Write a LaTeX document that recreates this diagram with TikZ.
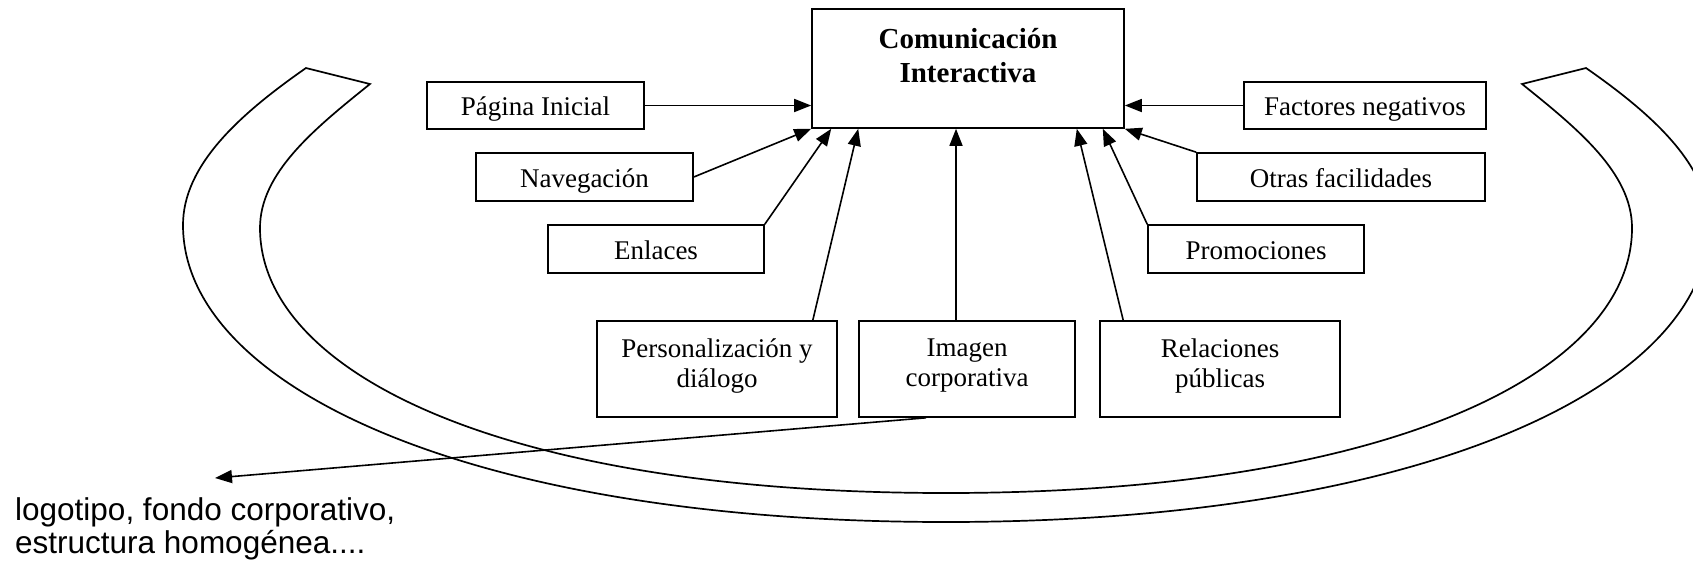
\documentclass[tikz,border=0pt]{standalone}
\usepackage{fontspec}
\setmainfont{Liberation Serif}
\newfontfamily\notefont{Liberation Sans}
\usetikzlibrary{arrows.meta}
% extra depth under the last line of a two-line box, lifts the text a little
\newcommand\lowstrut{\rule[-12pt]{0pt}{12pt}}

\begin{document}
\begin{tikzpicture}[x=1pt,y=-1pt,
  box/.style={draw, line width=1.6pt, inner sep=0pt,
              font=\fontsize{27}{30}\selectfont, align=center},
  onebox/.style={box, text height=24pt, text depth=4pt},
  twobox/.style={box, minimum height=96pt},
  feed/.style={line width=1.6pt, -{Triangle[length=17pt,width=13pt]}},
  band/.style={line width=1.7pt, line join=miter}
]
\useasboundingbox (0,0) rectangle (1693,566);
\clip (0,0) rectangle (1693,566);
\fill[white] (0,0) rectangle (1693,566);

% curved band around the diagram
\draw[band] (306,68) .. controls (240,114) and (183,165) .. (183,225)
  .. controls (183,385) and (466,522) .. (946,522)
  .. controls (1426,522) and (1709,385) .. (1709,225)
  .. controls (1709,165) and (1652,114) .. (1586,68)
  -- (1522,84)
  .. controls (1578,129) and (1632,173) .. (1632,228)
  .. controls (1632,370) and (1396,493) .. (946,493)
  .. controls (496,493) and (260,370) .. (260,228)
  .. controls (260,173) and (314,129) .. (370,84)
  -- cycle;

% central box
\node[box, minimum width=312pt, minimum height=119pt] (main) at (968,68.5) {};
\node[font=\bfseries\fontsize{29}{34}\selectfont, align=center, inner sep=0pt]
  (maintitle) at (968,56) {Comunicación\\Interactiva};

% factor boxes
\node[onebox, minimum width=217pt, minimum height=47pt] (pagina) at (535.5,105.5) {Página Inicial};
\node[onebox, minimum width=217pt, minimum height=48pt] (naveg) at (584.5,177) {Navegación};
\node[onebox, minimum width=216pt, minimum height=48pt] (enlaces) at (656,249) {Enlaces};
\node[twobox, minimum width=240pt] (person) at (717,369) {Personalización y\\diálogo\lowstrut};
\node[twobox, minimum width=216pt] (imagen) at (967,369) {Imagen\\corporativa\lowstrut};
\node[twobox, minimum width=240pt] (relac) at (1220,369) {Relaciones\\públicas\lowstrut};
\node[onebox, minimum width=216pt, minimum height=48pt] (promo) at (1256,249) {Promociones};
\node[onebox, minimum width=288pt, minimum height=48pt] (otras) at (1341,177) {Otras facilidades};
\node[onebox, minimum width=242pt, minimum height=47pt] (factores) at (1365,105.5) {Factores negativos};

% arrows into the central box
\coordinate (imgtop) at ([xshift=-11pt]imagen.north);
\draw[feed] (pagina.east) -- (pagina.east -| main.west);
\draw[feed] (naveg.east) -- (main.south west);
\draw[feed] (enlaces.north east) -- ([xshift=20pt]main.south west);
\draw[feed] ([xshift=-25pt]person.north east) -- ([xshift=47pt]main.south west);
\draw[feed] (imgtop) -- (imgtop |- main.south);
\draw[feed] ([xshift=24pt]relac.north west) -- ([xshift=-48pt]main.south east);
\draw[feed] (promo.north west) -- ([xshift=-22pt]main.south east);
\draw[feed] (otras.north west) -- (main.south east);
\draw[feed] (factores.west) -- (factores.west -| main.east);

% note on corporate image
\coordinate (notept) at (215,478);
\draw[feed] ([xshift=-41pt]imagen.south) -- (notept);
\node[anchor=north west, inner sep=0pt, align=left,
      font=\notefont\fontsize{31.5}{33}\selectfont]
  (note) at (15,497) {logotipo, fondo corporativo,\\estructura homogénea....};
\end{tikzpicture}
\end{document}
